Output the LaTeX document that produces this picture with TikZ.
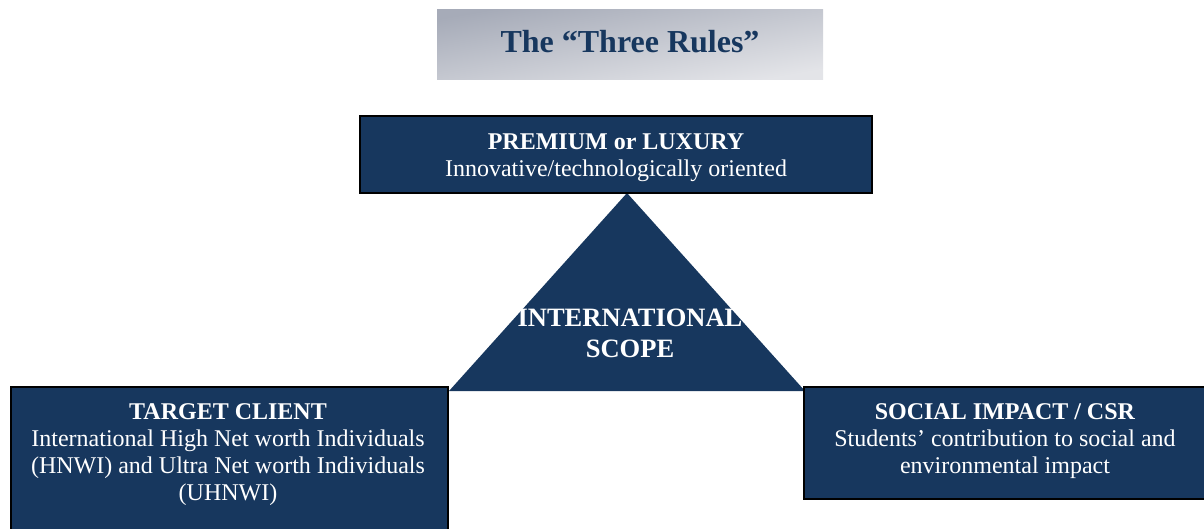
\documentclass[tikz,border=0pt]{standalone}
\usepackage{fontspec}
\setmainfont{Liberation Serif}
\definecolor{navy}{HTML}{17375E}
\definecolor{graydark}{HTML}{A6ABB8}
\definecolor{graylight}{HTML}{E3E4E8}
\begin{document}
\begin{tikzpicture}[x=1pt,y=-1pt,
  navybox/.style={fill=navy, draw=black, line width=2pt, inner sep=0pt},
  boxtext/.style={text=white, align=center, font=\fontsize{24}{27}\selectfont, inner sep=0pt},
]
\useasboundingbox (0,0) rectangle (1204,528);
\clip (0,0) rectangle (1204,528);
% title
\node[shade, top color=graydark, bottom color=graylight, shading angle=10,
      minimum width=386pt, minimum height=70pt, inner sep=0pt, text=navy,
      font=\bfseries\fontsize{32}{36}\selectfont] (title) at (630,44) {};
\node[text=navy, inner sep=0pt, font=\bfseries\fontsize{32}{36}\selectfont] (titletext) at (630,42) {The “Three Rules”};
% triangle
\coordinate (apex) at (627,193);
\coordinate (bl) at (449,391);
\coordinate (br) at (805,391);
\fill[navy] (apex) -- (bl) -- (br) -- cycle;
\node[text=white, align=center, inner sep=0pt, font=\bfseries\fontsize{26.5}{31}\selectfont] (scope) at (630,333) {INTERNATIONAL\\SCOPE};
% top box
\node[navybox, minimum width=512pt, minimum height=77pt] (premium) at (616,154) {};
\node[boxtext] (premiumtext) at (616,158)
  {\textbf{PREMIUM or LUXURY}\\Innovative/technologically oriented};
% left box
\node[navybox, minimum width=437pt, minimum height=170pt, anchor=north west] (client) at (10,386) {};
\node[boxtext] (clienttext) at (228,455)
  {\textbf{TARGET CLIENT}\\International High Net worth Individuals\\(HNWI) and Ultra Net worth Individuals\\(UHNWI)};
% right box
\node[navybox, minimum width=405pt, minimum height=112pt, anchor=north west] (csr) at (803,386) {};
\node[boxtext] (csrtext) at (1005,441)
  {\textbf{SOCIAL IMPACT / CSR}\\Students’ contribution to social and\\environmental impact};
\end{tikzpicture}
\end{document}
